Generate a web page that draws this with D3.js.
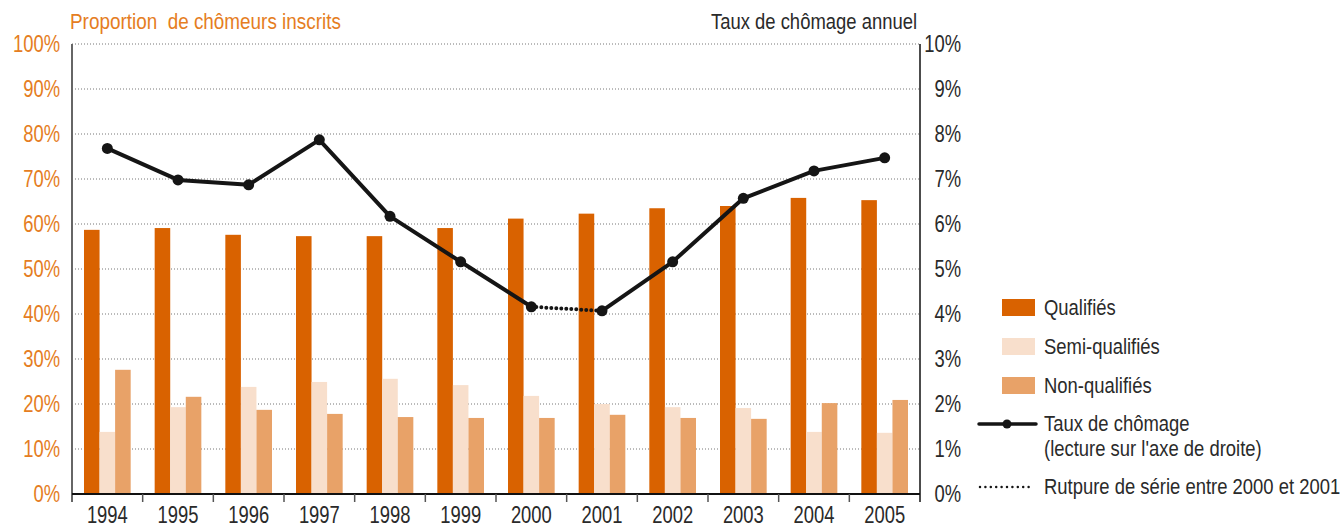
<!DOCTYPE html>
<html>
<head>
<meta charset="utf-8">
<script src="https://d3js.org/d3.v7.min.js"></script>
<style>
    body { margin: 0; padding: 0; background: #fff; }
    svg text { font-family: "Liberation Sans", Arial, sans-serif; }
</style>
</head>
<body>
<div id="chart"></div>
<script>
// Data
const years = ['1994', '1995', '1996', '1997', '1998', '1999', '2000', '2001', '2002', '2003', '2004', '2005'];
const qualifies = [58.7, 59.1, 57.6, 57.3, 57.3, 59.1, 61.2, 62.3, 63.5, 64.0, 65.8, 65.3];
const semiQualifies = [13.8, 19.3, 23.8, 24.9, 25.6, 24.2, 21.8, 20.0, 19.3, 19.1, 13.8, 13.6];
const nonQualifies = [27.6, 21.6, 18.7, 17.8, 17.1, 16.9, 16.9, 17.6, 16.9, 16.7, 20.2, 20.9];
const tauxChomage = [7.68, 6.98, 6.87, 7.87, 6.17, 5.16, 4.16, 4.07, 5.16, 6.57, 7.18, 7.47];
const leftTicks = [0, 10, 20, 30, 40, 50, 60, 70, 80, 90, 100];
const rightTicks = [0, 1, 2, 3, 4, 5, 6, 7, 8, 9, 10];

const series = [
    { name: 'Qualifiés', values: qualifies, color: '#d96200' },
    { name: 'Semi-qualifiés', values: semiQualifies, color: '#f8dfcc' },
    { name: 'Non-qualifiés', values: nonQualifies, color: '#e8a268' }
];

const width = 1343, height = 526;
const margin = { top: 44, right: 423, bottom: 32, left: 72 };
const innerW = width - margin.left - margin.right;
const innerH = height - margin.top - margin.bottom;
const orange = '#e57d22';
const dark = '#2a2a2a';

// condensed text: the glyphs are squeezed horizontally round the anchor point
function label(parent, x, y, str, opts = {}) {
    const sx = opts.squeeze || 0.82;
    return parent.append('text')
        .attr('transform', `translate(${x},${y}) scale(${sx},1)`)
        .attr('text-anchor', opts.anchor || 'start')
        .attr('dy', opts.dy || 0)
        .attr('fill', opts.color || dark)
        .style('font-size', (opts.size || 22.5) + 'px')
        .attr('xml:space', 'preserve')
        .text(str);
}

const svg = d3.select('#chart').append('svg')
    .attr('width', width)
    .attr('height', height);

const g = svg.append('g').attr('transform', `translate(${margin.left},${margin.top})`);

const x = d3.scaleBand().domain(years).range([0, innerW]).paddingInner(0).paddingOuter(0);
const xSub = d3.scaleBand().domain(series.map(s => s.name)).range([12, x.bandwidth() - 12]);
const yLeft = d3.scaleLinear().domain([0, 100]).range([innerH, 0]);
const yRight = d3.scaleLinear().domain([0, 10]).range([innerH, 0]);

// gridlines
g.selectAll('.grid')
    .data(leftTicks.filter(t => t > 0))
    .enter().append('line')
    .attr('x1', 0).attr('x2', innerW)
    .attr('y1', d => yLeft(d)).attr('y2', d => yLeft(d))
    .attr('stroke', '#777')
    .attr('stroke-width', 1)
    .attr('stroke-dasharray', '1,2');

// bars
series.forEach(s => {
    g.selectAll('.bar-' + s.name)
        .data(s.values)
        .enter().append('rect')
        .attr('x', (d, i) => x(years[i]) + xSub(s.name))
        .attr('y', d => yLeft(d))
        .attr('width', xSub.bandwidth())
        .attr('height', d => innerH - yLeft(d))
        .attr('fill', s.color);
});

// unemployment line, broken series between 2000 and 2001
const pts = tauxChomage.map((v, i) => [x(years[i]) + x.bandwidth() / 2, yRight(v)]);
const line = d3.line();
const breakAt = years.indexOf('2000');
g.append('path')
    .attr('d', line(pts.slice(0, breakAt + 1)))
    .attr('fill', 'none').attr('stroke', '#151515').attr('stroke-width', 4).attr('stroke-linejoin', 'round');
g.append('path')
    .attr('d', line(pts.slice(breakAt + 1)))
    .attr('fill', 'none').attr('stroke', '#151515').attr('stroke-width', 4).attr('stroke-linejoin', 'round');
g.append('path')
    .attr('d', line(pts.slice(breakAt, breakAt + 2)))
    .attr('fill', 'none').attr('stroke', '#151515').attr('stroke-width', 4)
    .attr('stroke-linecap', 'round').attr('stroke-dasharray', '0,5');
g.selectAll('.dot')
    .data(pts)
    .enter().append('circle')
    .attr('cx', d => d[0]).attr('cy', d => d[1])
    .attr('r', 5.5).attr('fill', '#151515');

// left axis
leftTicks.forEach(t => label(g, -12, yLeft(t), t + '%', { anchor: 'end', dy: '0.36em', color: orange, size: 23, squeeze: 0.8 }));
g.append('line').attr('x1', 0).attr('x2', 0).attr('y1', 0).attr('y2', innerH + 8)
    .attr('stroke', '#666').attr('stroke-width', 2);

// right axis
rightTicks.forEach(t => label(g, innerW + 41, yRight(t), t + '%', { anchor: 'end', dy: '0.36em', size: 23, squeeze: 0.8 }));
g.append('line').attr('x1', innerW).attr('x2', innerW).attr('y1', 0).attr('y2', innerH + 8)
    .attr('stroke', '#111').attr('stroke-width', 1.5);

// bottom axis
const bottom = g.append('g').attr('transform', `translate(0,${innerH})`);
bottom.append('line').attr('x1', 0).attr('x2', innerW).attr('stroke', '#111').attr('stroke-width', 2);
bottom.selectAll('.tick')
    .data(years.slice(1))
    .enter().append('line')
    .attr('x1', d => x(d)).attr('x2', d => x(d))
    .attr('y1', 0).attr('y2', 8)
    .attr('stroke', '#555').attr('stroke-width', 1.5);
years.forEach(yr => label(bottom, x(yr) + x.bandwidth() / 2, 29, yr, { anchor: 'middle', size: 23, squeeze: 0.8 }));

// axis titles
label(svg, 70, 29, 'Proportion  de chômeurs inscrits', { color: orange, size: 22.5, squeeze: 0.84 });
label(svg, 917, 29, 'Taux de chômage annuel', { anchor: 'end' });

// legend
const legend = svg.append('g');
series.forEach((s, i) => {
    const yy = 299 + i * 39;
    legend.append('rect').attr('x', 1002).attr('y', yy).attr('width', 33).attr('height', 17).attr('fill', s.color);
    label(legend, 1044, yy + 16, s.name);
});
legend.append('line').attr('x1', 979).attr('x2', 1036).attr('y1', 424).attr('y2', 424)
    .attr('stroke', '#151515').attr('stroke-width', 3.5).attr('stroke-linecap', 'round');
legend.append('circle').attr('cx', 1007).attr('cy', 424).attr('r', 4.5).attr('fill', '#151515');
label(legend, 1044, 431, 'Taux de chômage');
label(legend, 1044, 456, "(lecture sur l'axe de droite)");
legend.append('line').attr('x1', 980).attr('x2', 1034).attr('y1', 487).attr('y2', 487)
    .attr('stroke', '#151515').attr('stroke-width', 2.5).attr('stroke-linecap', 'round').attr('stroke-dasharray', '0,5.4');
label(legend, 1044, 494, 'Rutpure de série entre 2000 et 2001');
</script>
</body>
</html>
